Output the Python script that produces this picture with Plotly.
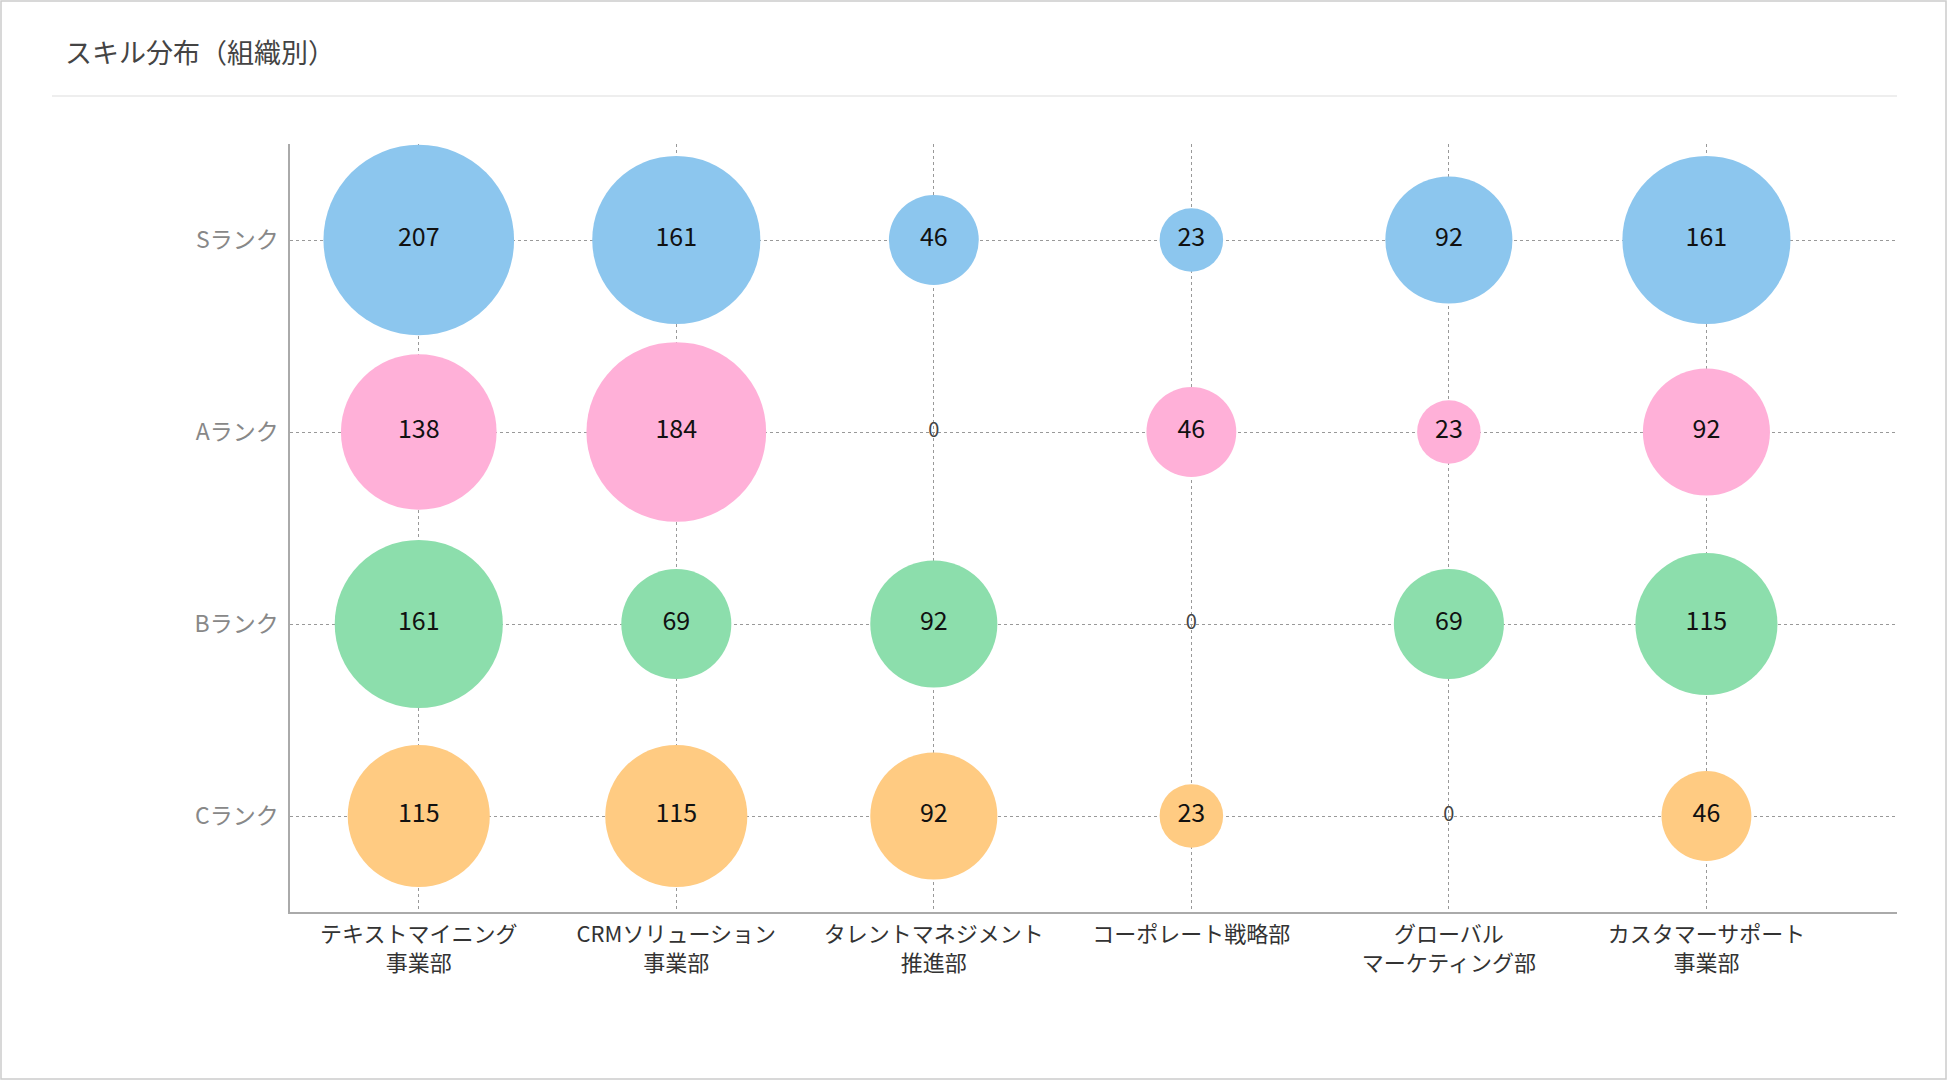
"""Skill distribution by organisation: bubble matrix of rank x department."""
import plotly.graph_objects as go

FONT = "Noto Sans CJK JP"

departments = [
    "テキストマイニング<br>事業部",
    "CRMソリューション<br>事業部",
    "タレントマネジメント<br>推進部",
    "コーポレート戦略部",
    "グローバル<br>マーケティング部",
    "カスタマーサポート<br>事業部",
]
ranks = ["Sランク", "Aランク", "Bランク", "Cランク"]

s_rank = [207, 161, 46, 23, 92, 161]
a_rank = [138, 184, 0, 46, 23, 92]
b_rank = [161, 69, 92, 0, 69, 115]
c_rank = [115, 115, 92, 23, 0, 46]

rank_colors = ["#8CC6EE", "#FFB0D8", "#8CDEAC", "#FFCB82"]

W, H = 1950, 1080
L, R, T, B = 290, 53, 144, 168       # plot-area margins in px
PW, PH = W - L - R, H - T - B

# bubble diameter ~ 13.25 * sqrt(value)
SIZEREF = 2 / 13.25 ** 2

fig = go.Figure()
for rank, vals, col in zip(ranks, [s_rank, a_rank, b_rank, c_rank], rank_colors):
    fig.add_trace(go.Scatter(
        x=departments, y=[rank] * len(vals), mode="markers+text",
        marker=dict(size=vals, sizemode="area", sizeref=SIZEREF,
                    color=col, line=dict(width=0), opacity=1),
        text=[str(v) for v in vals], textposition="middle center",
        textfont=dict(family=FONT,
                      size=[20 if v == 0 else 25 for v in vals],
                      color=["#444444" if v == 0 else "#111111" for v in vals]),
        cliponaxis=False, showlegend=False, name=rank,
        hovertemplate="%{x}<br>%{y}: %{text}<extra></extra>"))

axis_common = dict(showline=True, linecolor="#aaaaaa", linewidth=1.5,
                   showgrid=True, gridcolor="#999999", griddash="dot",
                   gridwidth=1, zeroline=False, ticks="")

fig.update_layout(
    width=W, height=H,
    paper_bgcolor="white", plot_bgcolor="white",
    margin=dict(l=L, r=R, t=T, b=B),
    title=dict(text="スキル分布（組織別）", x=65 / W, xref="container",
               xanchor="left", y=1 - 54 / H, yref="container",
               yanchor="middle", font=dict(family=FONT, size=27,
                                           color="#444444")),
    xaxis=dict(type="category", categoryorder="array",
               categoryarray=departments, range=[-0.5, 5.74],
               tickfont=dict(family=FONT, size=22, color="#333333"),
               ticklabelstandoff=2, **axis_common),
    yaxis=dict(type="category", categoryorder="array",
               categoryarray=ranks[::-1], range=[-0.5, 3.5],
               tickfont=dict(family=FONT, size=23, color="#888888"),
               ticklabelstandoff=5, **axis_common),
    shapes=[
        # header separator
        dict(type="line", xref="paper", yref="paper",
             x0=(52 - L) / PW, x1=1, y0=(H - B - 96) / PH, y1=(H - B - 96) / PH,
             line=dict(color="#e8e8e8", width=1.5)),
        # card border
        dict(type="rect", xref="paper", yref="paper",
             x0=(1 - L) / PW, x1=(W - 4 - L) / PW,
             y0=(1 - B) / PH, y1=(H - B - 1) / PH,
             line=dict(color="#cccccc", width=1.5)),
    ],
)

fig.write_html("out.html", config={"displayModeBar": False},
               post_script="document.body.style.margin='0';")
